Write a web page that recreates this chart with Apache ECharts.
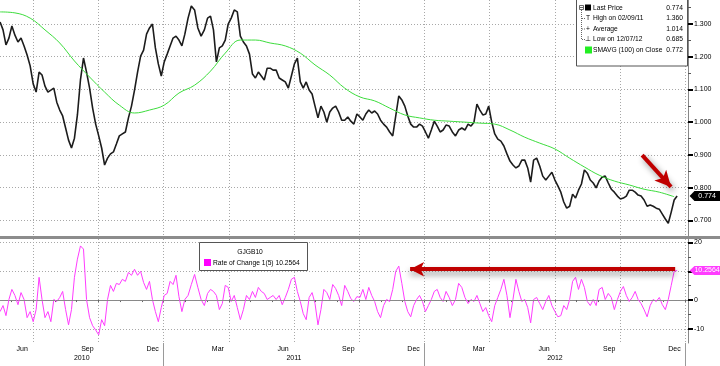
<!DOCTYPE html>
<html><head><meta charset="utf-8">
<script src="https://cdn.jsdelivr.net/npm/echarts@6/dist/echarts.min.js"></script>
<style>html,body{margin:0;padding:0;background:#fff}#c{width:720px;height:366px}</style>
</head><body><div id="c"></div>
<script>
const FONT = 'Liberation Sans';
// sampling of the daily series (one sample every ~3 trading days)
const sampleStart = '2010-05-16';
const sampleStepDays = 4.2;
const smaEvery = 5;

// GJGB10 last price (yield, %)
const lastPrice = [
1.306,1.282,1.236,1.257,1.294,1.266,1.245,1.257,1.233,1.205,
1.172,1.117,1.092,1.153,1.144,1.110,1.092,1.098,1.104,1.061,
1.037,1.019,0.982,0.945,0.921,0.951,1.022,1.129,1.196,1.153,
1.104,1.043,0.994,0.958,0.921,0.869,0.890,0.903,0.909,0.933,
0.958,0.964,0.970,1.013,1.049,1.098,1.153,1.202,1.220,1.269,
1.288,1.300,1.227,1.178,1.141,1.184,1.208,1.233,1.257,1.263,
1.251,1.233,1.269,1.318,1.355,1.343,1.288,1.263,1.282,1.318,
1.324,1.282,1.184,1.227,1.233,1.251,1.300,1.318,1.343,1.337,
1.263,1.245,1.233,1.208,1.147,1.135,1.153,1.141,1.129,1.165,
1.165,1.159,1.159,1.135,1.129,1.123,1.104,1.141,1.178,1.196,
1.123,1.104,1.123,1.098,1.086,1.049,1.013,1.049,1.031,1.000,
1.031,1.043,1.049,1.031,1.006,1.006,1.016,1.003,0.994,1.025,
1.016,1.006,1.025,1.037,1.028,1.034,1.025,1.006,0.994,0.985,
0.970,0.958,1.019,1.080,1.068,1.049,1.019,0.994,0.985,0.985,
0.994,0.988,0.970,0.951,0.976,1.003,0.988,0.970,0.976,0.991,
0.988,0.970,0.958,0.976,0.982,0.976,0.994,0.988,1.000,1.055,
1.037,1.022,1.025,1.049,1.000,0.964,0.948,0.942,0.927,0.903,
0.881,0.869,0.860,0.866,0.884,0.884,0.860,0.817,0.884,0.890,
0.866,0.835,0.823,0.835,0.847,0.823,0.805,0.786,0.756,0.737,
0.743,0.780,0.768,0.792,0.811,0.854,0.844,0.823,0.814,0.799,
0.820,0.832,0.835,0.814,0.795,0.786,0.774,0.765,0.768,0.774,
0.792,0.792,0.786,0.777,0.774,0.762,0.743,0.747,0.743,0.737,
0.734,0.719,0.704,0.691,0.725,0.762,0.774
];
// 100-day simple moving average, one value every smaEvery samples
const sma100 = [
1.337,1.334,1.318,1.282,1.242,1.187,1.138,1.092,1.052,1.028,
1.037,1.052,1.089,1.113,1.156,1.211,1.251,1.251,1.242,1.233,
1.211,1.175,1.144,1.104,1.077,1.065,1.043,1.022,1.013,1.006,
1.003,1.000,0.997,0.994,0.976,0.954,0.936,0.918,0.890,0.863,
0.838,0.820,0.808,0.795,0.786,0.772
];
// Rate of change 1(5), %
const roc5 = [
-4.0,-1.9,-5.4,0.2,3.7,1.6,-1.6,2.6,0.2,-6.1,
-4.0,-7.5,-3.3,7.9,0.2,-6.1,-4.0,-7.5,0.2,-0.5,
0.9,3.0,-3.3,-8.6,-3.3,7.9,14.2,18.8,17.7,0.2,
-6.1,-8.9,-10.4,-12.1,-6.8,-8.9,0.2,5.1,3.0,5.8,
5.4,7.2,6.5,9.6,8.6,10.7,8.6,10.0,6.1,3.7,
6.5,0.2,-4.0,-7.5,-2.6,1.6,2.3,6.5,5.4,8.6,
1.2,-4.0,0.2,1.6,5.4,8.9,4.4,0.2,-1.9,2.3,
3.7,3.0,1.6,-3.3,-1.2,5.1,4.4,-0.5,1.6,-2.6,
-6.8,-3.3,1.6,0.2,3.0,0.9,4.4,3.0,2.3,0.2,
0.9,1.6,0.2,1.6,-1.6,0.9,3.7,7.2,7.9,3.0,
-0.5,-4.7,-6.8,0.9,2.6,-1.2,-8.6,-3.3,3.7,2.6,
0.2,5.4,4.0,1.6,-1.9,5.1,3.0,0.5,-0.5,1.2,
0.9,3.7,0.2,4.4,1.6,-0.5,-4.0,-6.1,-1.9,0.2,
-0.5,3.7,10.0,11.8,5.8,-0.5,-4.0,-5.8,-1.9,0.2,
1.6,-0.5,-4.0,-1.9,0.2,3.0,3.7,0.9,-0.5,3.0,
0.9,-1.9,0.2,5.8,4.4,0.9,-1.2,0.2,-0.5,1.6,
-1.2,-4.0,-2.6,-5.4,-7.5,-1.9,0.9,3.7,7.2,1.6,
-6.1,0.2,7.2,3.0,-0.5,0.2,-2.6,-7.9,0.2,0.9,
-1.2,-3.3,-0.5,1.6,-1.9,-4.0,-5.8,-5.4,-1.9,-3.3,
0.2,6.5,7.9,3.7,7.2,4.4,-0.5,-1.9,0.2,-1.9,
3.7,4.4,0.2,2.3,0.9,-3.3,0.2,3.0,4.7,1.6,
-0.5,0.9,3.0,0.2,-1.2,-3.3,-5.8,-1.9,0.2,-0.5,
0.9,-1.6,-3.3,0.2,5.1,10.0,10.2564
];

const monthLabels = ['Jun','Sep','Dec','Mar','Jun','Sep','Dec','Mar','Jun','Sep','Dec'];
const monthLabelYears = [2010,2010,2010,2011,2011,2011,2011,2012,2012,2012,2012];
const yearLabels = ['2010','2011','2012'];
const priceTicks = [0.7,0.8,0.9,1.0,1.1,1.2,1.3];
const priceMinorTicks = [0.75,0.85,0.95,1.05,1.15,1.25,1.35];
const rocTicks = [-10,0,10,20];
const rocMinorTicks = [-5,5,15];
const legendRows = [
  {label:'Last Price', value:'0.774'},
  {label:'High on 02/09/11', value:'1.360'},
  {label:'Average', value:'1.014'},
  {label:'Low on 12/07/12', value:'0.685'},
  {label:'SMAVG (100) on Close', value:'0.772'}
];
const rocLegendTitle = 'GJGB10';
const rocLegendLabel = 'Rate of Change 1(5) 10.2564';
const lastPriceLabel = '0.774';
const lastRocLabel = '10.2564';

// arrows (data coordinates)
const priceArrow = [[34.01, 0.899], [35.34, 0.802]];
const rocArrow = [[23.34, 10.7], [35.53, 10.7]];

const monthNames = ['Jan','Feb','Mar','Apr','May','Jun','Jul','Aug','Sep','Oct','Nov','Dec'];
const DAY = 86400000;
function monthIndex(ts){
  const d = new Date(ts); const y = d.getUTCFullYear(), m = d.getUTCMonth();
  const s = Date.UTC(y,m,1), e = Date.UTC(y,m+1,1);
  return (y-2010)*12 + m + (ts-s)/(e-s);
}
const t0 = Date.parse(sampleStart + 'T00:00:00Z');
const xAt = i => monthIndex(t0 + i*sampleStepDays*DAY);
const priceData = lastPrice.map((v,i)=>[xAt(i), v]);
const smaData = sma100.map((v,k)=>[xAt(k*smaEvery), v]);
const rocData = roc5.map((v,i)=>[xAt(i), v]);

const X_MIN = 4.48, X_MAX = 36.12;
const quarterLines = []; for (let m = 6; m <= 36; m += 3) quarterLines.push(m);
const monthTicks = []; for (let m = 5; m <= 36; m++) monthTicks.push(m);
const monthLabelPos = monthLabels.map((n,i)=>(monthLabelYears[i]-2010)*12 + monthNames.indexOf(n) + 0.5);
const yearTicks = [12,24,36];
const yearPos = yearLabels.map(y=>{const a=Math.max(X_MIN,(+y-2010)*12), b=(+y-2010)*12+12; return (a+b)/2;});

const GRID_DOT = {color:'#a8a8a8', width:1, type:[1,2]};
const txt = {fontFamily:FONT, fontSize:7, color:'#000'};
const LF = '6.7px "'+FONT+'"';

function gridX(idx){
  return {type:'value', gridIndex:idx, min:X_MIN, max:X_MAX,
    axisLine:{show:false}, axisLabel:{show:false},
    axisTick:{show:false, customValues:quarterLines},
    splitLine:{show:true, lineStyle:GRID_DOT}};
}

const chart = echarts.init(document.getElementById('c'), null, {renderer:'canvas'});
const option = {
  animation:false,
  backgroundColor:'#fff',
  textStyle:{fontFamily:FONT},
  grid:[
    {left:0, right:32, top:0, height:236, containLabel:false, outerBoundsMode:'none'},
    {left:0, right:32, top:239, height:104, containLabel:false, outerBoundsMode:'none'}
  ],
  xAxis:[
    gridX(0),
    gridX(1),
    {type:'value', gridIndex:1, min:X_MIN, max:X_MAX, position:'bottom',
      axisLine:{show:true, lineStyle:{color:'#888', width:1}},
      axisTick:{show:true, customValues:monthTicks, length:2, lineStyle:{color:'#666'}},
      axisLabel:{show:true, customValues:monthLabelPos, margin:3, ...txt,
        formatter:v=>{const i=monthLabelPos.findIndex(p=>Math.abs(p-v)<0.01); return i>=0?monthLabels[i]:'';}},
      splitLine:{show:false}},
    {type:'value', gridIndex:1, min:X_MIN, max:X_MAX, position:'bottom',
      axisLine:{show:false},
      axisTick:{show:true, customValues:yearTicks, length:23, lineStyle:{color:'#9a9a9a'}},
      axisLabel:{show:true, customValues:yearPos, margin:12, ...txt,
        formatter:v=>{const i=yearPos.findIndex(p=>Math.abs(p-v)<0.01); return i>=0?yearLabels[i]:'';}},
      splitLine:{show:false}}
  ],
  yAxis:[
    {type:'value', gridIndex:0, position:'right', min:0.652, max:1.3734,
      axisLine:{show:true, lineStyle:{color:'#888'}},
      axisTick:{show:true, customValues:priceTicks, length:5, lineStyle:{color:'#000', width:2}},
      axisLabel:{show:true, customValues:priceTicks, margin:6, ...txt, formatter:v=>v.toFixed(3)},
      splitLine:{show:true, lineStyle:GRID_DOT}},
    {type:'value', gridIndex:0, position:'right', min:0.652, max:1.3734,
      axisLine:{show:false},
      axisTick:{show:true, customValues:priceMinorTicks, length:3, lineStyle:{color:'#555'}},
      axisLabel:{show:false}, splitLine:{show:false}},
    {type:'value', gridIndex:1, position:'right', min:-14.9, max:21.2,
      axisLine:{show:true, lineStyle:{color:'#888'}},
      axisTick:{show:true, customValues:rocTicks, length:5, lineStyle:{color:'#000', width:2}},
      axisLabel:{show:true, customValues:rocTicks, margin:6, ...txt, formatter:v=>String(v)},
      splitLine:{show:true, lineStyle:GRID_DOT}},
    {type:'value', gridIndex:1, position:'right', min:-14.9, max:21.2,
      axisLine:{show:false},
      axisTick:{show:true, customValues:rocMinorTicks, length:3, lineStyle:{color:'#555'}},
      axisLabel:{show:false}, splitLine:{show:false}}
  ],
  series:[
    {name:'zero', type:'line', xAxisIndex:1, yAxisIndex:2, data:[], silent:true,
      markLine:{silent:true, symbol:['none','none'], label:{show:false},
        lineStyle:{color:'#8a8a8a', width:1, type:[5,2,1,2]}, data:[{yAxis:0}]}},
    {name:'Last Price', type:'line', xAxisIndex:0, yAxisIndex:0, data:priceData,
      symbol:'none', silent:true, lineStyle:{color:'#1c1c1c', width:1.6},
      markLine:{silent:true, symbol:['none','arrow'], symbolSize:[12,16], label:{show:false},
        lineStyle:{color:'#c00000', width:4, type:'solid', shadowBlur:6, shadowColor:'rgba(0,0,0,0.45)', shadowOffsetX:2, shadowOffsetY:3},
        data:[[{coord:priceArrow[0]},{coord:priceArrow[1]}]]},
      markPoint:{silent:true, symbol:'path://M0,5L5,0L32,0L32,10L5,10Z', symbolKeepAspect:false,
        symbolSize:[31,10], symbolOffset:[28,0], itemStyle:{color:'#000'},
        label:{show:true, position:'inside', color:'#fff', fontFamily:FONT, fontSize:7, formatter:lastPriceLabel, offset:[2,0]},
        data:[{coord:[priceData[priceData.length-1][0], 0.774]}]}},
    {name:'SMAVG', type:'line', xAxisIndex:0, yAxisIndex:0, data:smaData, smooth:0.4,
      symbol:'none', silent:true, lineStyle:{color:'#3ddc3d', width:1}},
    {name:'ROC', type:'line', xAxisIndex:1, yAxisIndex:2, data:rocData,
      symbol:'none', silent:true, lineStyle:{color:'#ff3cff', width:1},
      markLine:{silent:true, symbol:['arrow','none'], symbolSize:[11,14], label:{show:false},
        lineStyle:{color:'#c00000', width:4, type:'solid', shadowBlur:6, shadowColor:'rgba(0,0,0,0.4)', shadowOffsetY:4},
        data:[[{coord:rocArrow[0]},{coord:rocArrow[1]}]]},
      markPoint:{silent:true, symbol:'path://M0,5L5,0L32,0L32,10L5,10Z', symbolKeepAspect:false,
        symbolSize:[31,9], symbolOffset:[28,0], itemStyle:{color:'#ff3cff'},
        label:{show:true, position:'inside', color:'#fff', fontFamily:FONT, fontSize:7, formatter:lastRocLabel, offset:[2,0]},
        data:[{coord:[rocData[rocData.length-1][0], 10.2564]}]}}
  ]
};

// legend boxes and panel separator
const g = [];
g.push({type:'rect', z:100, shape:{x:0, y:236, width:720, height:3}, style:{fill:'#8c8c8c'}});
g.push({type:'rect', z:100, shape:{x:576.5, y:-1, width:111, height:67}, style:{fill:'#fff', stroke:'#555', lineWidth:1}});
const rowY = [8, 18.5, 29, 39.5, 50];
legendRows.forEach((r,i)=>{
  g.push({type:'text', z:101, style:{text:r.label, x:593, y:rowY[i], font:LF, fill:'#000', verticalAlign:'middle', align:'left'}});
  g.push({type:'text', z:101, style:{text:r.value, x:683, y:rowY[i], font:LF, fill:'#000', verticalAlign:'middle', align:'right'}});
});
// tree glyphs
g.push({type:'rect', z:101, shape:{x:579.5, y:5.5, width:4, height:4}, style:{fill:'#fff', stroke:'#444', lineWidth:0.8}});
g.push({type:'line', z:101, shape:{x1:580, y1:7.5, x2:583, y2:7.5}, style:{stroke:'#444', lineWidth:0.8}});
g.push({type:'rect', z:101, shape:{x:585, y:4.5, width:6, height:6}, style:{fill:'#000'}});
g.push({type:'line', z:101, shape:{x1:581.5, y1:10, x2:581.5, y2:39.5}, style:{stroke:'#666', lineWidth:1, lineDash:[1,1]}});
[18.5,29,39.5].forEach(y=>g.push({type:'line', z:101, shape:{x1:582, y1:y, x2:585, y2:y}, style:{stroke:'#666', lineWidth:1, lineDash:[1,1]}}));
g.push({type:'text', z:101, style:{text:'T', x:588, y:18.5, font:LF, fill:'#000', align:'center', verticalAlign:'middle'}});
g.push({type:'text', z:101, style:{text:'+', x:588, y:29, font:LF, fill:'#000', align:'center', verticalAlign:'middle'}});
g.push({type:'text', z:101, style:{text:'⊥', x:588, y:39.5, font:'7px "DejaVu Sans"', fill:'#000', align:'center', verticalAlign:'middle'}});
g.push({type:'rect', z:101, shape:{x:585, y:46.5, width:7, height:7}, style:{fill:'#22ee22'}});
// ROC legend
g.push({type:'rect', z:100, shape:{x:199.5, y:242.5, width:108, height:28}, style:{fill:'#fff', stroke:'#555', lineWidth:1}});
g.push({type:'text', z:101, style:{text:rocLegendTitle, x:250, y:252, font:LF, fill:'#000', align:'center', verticalAlign:'middle'}});
g.push({type:'rect', z:101, shape:{x:204, y:259, width:7, height:7}, style:{fill:'#ff00ff'}});
g.push({type:'text', z:101, style:{text:rocLegendLabel, x:213, y:263, font:LF, fill:'#000', align:'left', verticalAlign:'middle'}});
option.graphic = {elements:g};

chart.setOption(option);
</script></body></html>
